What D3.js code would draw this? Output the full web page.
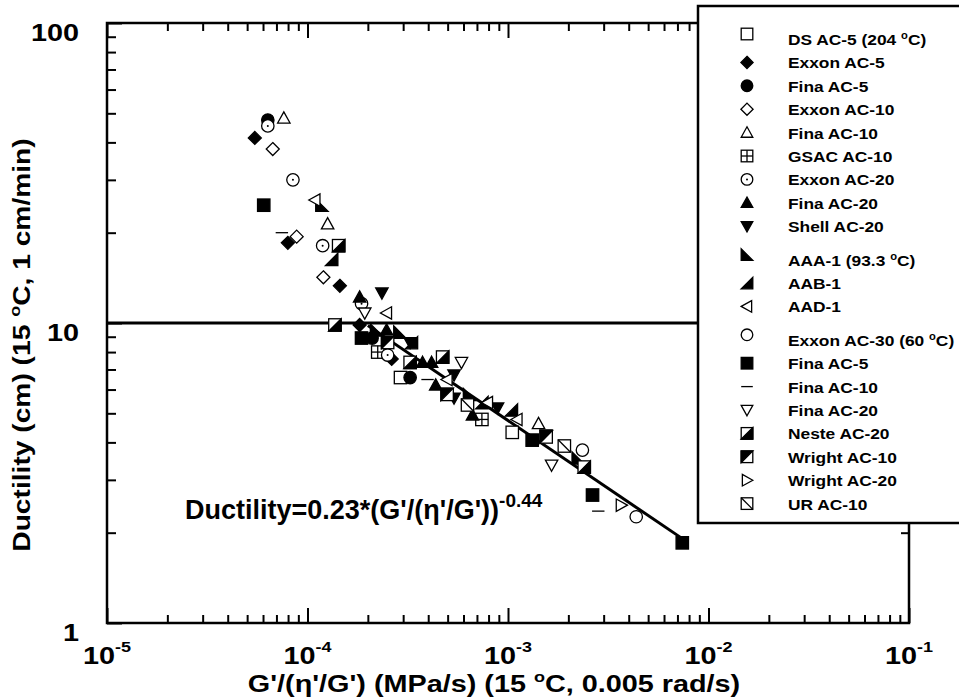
<!DOCTYPE html>
<html>
<head>
<meta charset="utf-8">
<script src="https://cdn.jsdelivr.net/npm/d3@7"></script>
<style>
  body { margin: 0; background: #fff; }
  text { font-family: "Liberation Sans", Arial, Helvetica, sans-serif; font-weight: bold; fill: #000; }
</style>
</head>
<body>
<script>
// 数据: [G'/(η'/G'), 延度(cm)]
var dsAC5 = [[2.91e-4, 6.58], [1.05e-3, 4.32]];
var exxonAC5 = [[5.46e-5, 41.4], [7.98e-5, 18.5], [1.45e-4, 13.3], [1.82e-4, 9.85], [2.63e-4, 7.59]];
var finaAC5 = [[6.34e-5, 47.5], [2.10e-4, 8.91], [3.25e-4, 6.58]];
var exxonAC10 = [[6.71e-5, 38.0], [8.83e-5, 19.4], [1.20e-4, 14.2]];
var finaAC10 = [[7.62e-5, 48.2], [1.26e-4, 21.4], [1.42e-3, 4.62]];
var gsacAC10 = [[2.24e-4, 8.00], [7.41e-4, 4.77]];
var exxonAC20 = [[6.34e-5, 45.4], [8.46e-5, 30.0], [1.19e-4, 18.1], [1.86e-4, 11.6], [2.51e-4, 7.82]];
var finaAC20 = [[1.82e-4, 12.2], [2.48e-4, 9.48], [3.75e-4, 7.39], [4.16e-4, 7.39], [4.36e-4, 6.21], [6.65e-4, 4.93]];
var shellAC20 = [[2.35e-4, 12.6], [3.25e-4, 8.61], [5.38e-4, 6.71], [5.38e-4, 5.62], [8.87e-4, 5.21], [1.55e-3, 4.24]];
var aaa1 = [[1.18e-4, 24.7], [2.21e-4, 9.48], [2.89e-4, 9.33], [6.43e-4, 5.78], [2.24e-3, 3.55]];
var aab1 = [[1.32e-4, 16.3], [3.30e-4, 8.60], [7.41e-4, 5.43], [1.04e-3, 5.13]];
var aad1 = [[1.09e-4, 25.7], [2.48e-4, 10.8], [4.97e-4, 6.48], [7.91e-4, 5.43], [1.11e-3, 4.77]];
var exxonAC30 = [[2.35e-3, 3.77], [4.36e-3, 2.26]];
var finaAC5b = [[6.05e-5, 24.7], [1.86e-4, 8.91], [1.32e-3, 4.07], [2.64e-3, 2.67], [7.40e-3, 1.85]];
var finaAC10b = [[7.45e-5, 20.0], [3.97e-4, 6.48], [2.82e-3, 2.36]];
var finaAC20b = [[1.93e-4, 10.8], [5.86e-4, 7.39], [1.65e-3, 3.36]];
var nesteAC20 = [[1.43e-4, 18.1], [1.37e-4, 9.85], [3.25e-4, 7.39], [4.72e-4, 7.70], [2.40e-3, 3.31]];
var wrightAC10 = [[2.51e-4, 8.61], [4.97e-4, 5.78], [1.55e-3, 4.17]];
var wrightAC20 = [[3.67e-3, 2.47]];
var urAC10 = [[6.28e-4, 5.33], [1.91e-3, 3.89]];

// 图例名称与符号
var seriesNames = ['DS AC-5 (204 °C)', 'Exxon AC-5', 'Fina AC-5', 'Exxon AC-10', 'Fina AC-10',
  'GSAC AC-10', 'Exxon AC-20', 'Fina AC-20', 'Shell AC-20', 'AAA-1 (93.3 °C)', 'AAB-1', 'AAD-1',
  'Exxon AC-30 (60 °C)', 'Fina AC-5', 'Fina AC-10', 'Fina AC-20', 'Neste AC-20', 'Wright AC-10',
  'Wright AC-20', 'UR AC-10'];
var seriesValues = [dsAC5, exxonAC5, finaAC5, exxonAC10, finaAC10, gsacAC10, exxonAC20, finaAC20,
  shellAC20, aaa1, aab1, aad1, exxonAC30, finaAC5b, finaAC10b, finaAC20b, nesteAC20, wrightAC10,
  wrightAC20, urAC10];
var seriesMarkers = ['square', 'diamondFill', 'circleFill', 'diamond', 'triUp', 'squareCross',
  'circleDot', 'triUpFill', 'triDownFill', 'cornerLL', 'cornerLR', 'triLeft', 'circle', 'squareFill',
  'dash', 'triDown', 'halfLR', 'halfUL', 'triRight', 'squareSlash'];

// 回归线两端点与参考线
var fitLine = [[2.0e-4, 9.8], [7.5e-3, 1.9]];
var refDuctility = 10;
var xDomain = [1e-5, 1e-1];
var yDomain = [1, 100];
var xTickExp = [-5, -4, -3, -2, -1];
var yTickLabels = [100, 10, 1];

var W = 959, H = 700;
var plot = { left: 107, right: 909, top: 23, bottom: 623 };
var legendBox = { x: 698, y: 6, w: 280, h: 517 };

var svg = d3.select('body').append('svg').attr('width', W).attr('height', H);

var x = d3.scaleLog().domain(xDomain).range([plot.left, plot.right]);
var y = d3.scaleLog().domain(yDomain).range([plot.bottom, plot.top]);

function isMajor(v) { return Math.abs(Math.log10(v) - Math.round(Math.log10(v))) < 1e-9; }

// 刻度
function ticks(axisFn, scale, values, size, transform) {
  svg.append('g')
    .attr('transform', transform)
    .call(axisFn(scale).tickValues(values).tickSize(size).tickFormat(''))
    .call(g => g.select('.domain').remove())
    .call(g => g.selectAll('line').attr('stroke', '#000').attr('stroke-width', 2));
}
var xt = x.ticks(), yt = y.ticks();
ticks(d3.axisBottom, x, xt.filter(v => !isMajor(v)), -8, `translate(0,${plot.bottom})`);
ticks(d3.axisBottom, x, xt.filter(isMajor), -15, `translate(0,${plot.bottom})`);
ticks(d3.axisTop, x, xt.filter(v => !isMajor(v) && x(v) < legendBox.x - 2), -8, `translate(0,${plot.top})`);
ticks(d3.axisTop, x, xt.filter(v => isMajor(v) && x(v) < legendBox.x - 2), -15, `translate(0,${plot.top})`);
ticks(d3.axisLeft, y, yt.filter(v => !isMajor(v)), -9, `translate(${plot.left},0)`);
ticks(d3.axisLeft, y, yt.filter(isMajor), -15, `translate(${plot.left},0)`);
ticks(d3.axisRight, y, yt.filter(v => !isMajor(v) && y(v) > legendBox.y + legendBox.h), -8, `translate(${plot.right},0)`);

// 边框
svg.append('path')
  .attr('d', `M${legendBox.x},${plot.top}H${plot.left}V${plot.bottom}H${plot.right}V${legendBox.y + legendBox.h}`)
  .attr('fill', 'none').attr('stroke', '#000').attr('stroke-width', 2.5);

// 参考线 (10 cm)
svg.append('line')
  .attr('x1', plot.left).attr('x2', plot.right)
  .attr('y1', y(refDuctility)).attr('y2', y(refDuctility))
  .attr('stroke', '#000').attr('stroke-width', 3);

// 回归线
svg.append('path')
  .attr('d', d3.line().x(d => x(d[0])).y(d => y(d[1]))(fitLine))
  .attr('fill', 'none').attr('stroke', '#000').attr('stroke-width', 3);

function drawMarker(g, type, h) {
  var sw = 1.3;
  function poly(pts, fill) {
    g.append('path').attr('d', 'M' + pts.map(p => p.join(',')).join('L') + 'Z')
      .attr('fill', fill).attr('stroke', '#000').attr('stroke-width', sw);
  }
  function box(fill) {
    g.append('rect').attr('x', -h).attr('y', -h).attr('width', 2 * h).attr('height', 2 * h)
      .attr('fill', fill).attr('stroke', '#000').attr('stroke-width', sw);
  }
  function seg(x1, y1, x2, y2) {
    g.append('line').attr('x1', x1).attr('y1', y1).attr('x2', x2).attr('y2', y2)
      .attr('stroke', '#000').attr('stroke-width', sw);
  }
  function circ(fill) {
    g.append('circle').attr('r', h).attr('fill', fill).attr('stroke', '#000').attr('stroke-width', sw);
  }
  var d = h * 1.05;
  switch (type) {
    case 'square': box('#fff'); break;
    case 'squareFill': box('#000'); break;
    case 'diamondFill': poly([[0, -d], [d, 0], [0, d], [-d, 0]], '#000'); break;
    case 'diamond': poly([[0, -d], [d, 0], [0, d], [-d, 0]], '#fff'); break;
    case 'circleFill': circ('#000'); break;
    case 'circle': circ('#fff'); break;
    case 'circleDot': circ('#fff'); g.append('circle').attr('r', 1).attr('fill', '#000'); break;
    case 'triUp': poly([[0, -h], [h, h * 0.8], [-h, h * 0.8]], '#fff'); break;
    case 'triUpFill': poly([[0, -h], [h, h * 0.8], [-h, h * 0.8]], '#000'); break;
    case 'triDown': poly([[0, h], [h, -h * 0.8], [-h, -h * 0.8]], '#fff'); break;
    case 'triDownFill': poly([[0, h], [h, -h * 0.8], [-h, -h * 0.8]], '#000'); break;
    case 'triLeft': poly([[-h, 0], [h * 0.8, -h], [h * 0.8, h]], '#fff'); break;
    case 'triRight': poly([[h, 0], [-h * 0.8, -h], [-h * 0.8, h]], '#fff'); break;
    case 'cornerLL': poly([[-h, -h], [-h, h], [h, h]], '#000'); break;
    case 'cornerLR': poly([[h, -h], [h, h], [-h, h]], '#000'); break;
    case 'dash': seg(-h, 0, h, 0); break;
    case 'squareCross': box('#fff'); seg(0, -h, 0, h); seg(-h, 0, h, 0); break;
    case 'halfLR': box('#fff'); poly([[h, -h], [h, h], [-h, h]], '#000'); break;
    case 'halfUL': box('#fff'); poly([[-h, -h], [h, -h], [-h, h]], '#000'); break;
    case 'squareSlash': box('#fff'); seg(-h, -h, h, h); break;
  }
}

// 数据点
seriesValues.forEach(function (vals, i) {
  vals.forEach(function (p) {
    var g = svg.append('g').attr('transform', `translate(${x(p[0])},${y(p[1])})`);
    drawMarker(g, seriesMarkers[i], 6.2);
  });
});

// 拉伸文字 (字体沿书写方向偏宽)
function stretched(tx, ty, sx, size, anchor, rotate) {
  var tr = `translate(${tx},${ty})` + (rotate ? ' rotate(-90)' : '') + ` scale(${sx},1)`;
  return svg.append('text').attr('transform', tr)
    .attr('font-size', size).attr('text-anchor', anchor);
}
function withDegree(t, str, supSize, lift) {
  var parts = str.split('°');
  t.append('tspan').text(parts[0]);
  if (parts.length > 1) {
    t.append('tspan').attr('font-size', supSize).attr('dy', -lift).text('o');
    t.append('tspan').attr('dy', lift).text(parts[1]);
  }
}

// y 轴刻度标签
yTickLabels.forEach(function (v) {
  stretched(79, y(v) + 18, 1.2, 24, 'end').text(v);
});
// x 轴刻度标签
xTickExp.forEach(function (e) {
  var t = stretched(x(Math.pow(10, e)), 664, 1.2, 24, 'middle');
  t.append('tspan').text('10');
  t.append('tspan').attr('font-size', 15).attr('dy', -12).text(String(e));
});

// 轴标题
withDegree(stretched(494, 692, 1.2, 24, 'middle'), "G'/(η'/G') (MPa/s) (15 °C, 0.005 rad/s)", 15, 10);
withDegree(stretched(30, 345, 1.2, 23.5, 'middle', true), 'Ductility (cm) (15 °C, 1 cm/min)', 15, 10);

// 回归方程
var eq = stretched(185, 519, 1.0, 27, 'start');
eq.append('tspan').text("Ductility=0.23*(G'/(η'/G'))");
eq.append('tspan').attr('font-size', 19).attr('dy', -12).text('-0.44');

// 图例
svg.append('rect')
  .attr('x', legendBox.x).attr('y', legendBox.y).attr('width', legendBox.w).attr('height', legendBox.h)
  .attr('fill', '#fff').attr('stroke', '#000').attr('stroke-width', 2.5);
var rowY = 39;
seriesNames.forEach(function (name, i) {
  var hasSup = name.indexOf('°') >= 0;
  if (i > 0) rowY += 23.4 + (hasSup ? 10 : 0);
  var g = svg.append('g').attr('transform', `translate(747,${rowY - (hasSup ? 5 : 0)})`);
  drawMarker(g, seriesMarkers[i], 5.8);
  withDegree(stretched(788, rowY + 6, 1.12, 15.5, 'start'), name, 10, 6);
});
</script>
</body>
</html>
